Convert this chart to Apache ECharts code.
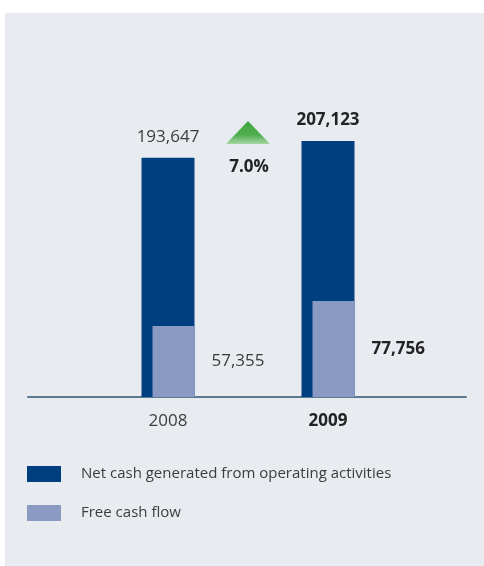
<!DOCTYPE html>
<html>
<head>
<meta charset="utf-8">
<script src="https://cdn.jsdelivr.net/npm/echarts@6/dist/echarts.min.js"></script>
<style>
  html, body { margin: 0; padding: 0; background: #ffffff; }
  #chart { width: 484px; height: 566px; }
</style>
</head>
<body>
<div id="chart"></div>
<script>
// Cash flow figures by year
const years = [2008, 2009];
const yearLabels = ['2008', '2009'];
const netCash = [193647, 207123];
const freeCash = [57355, 77756];
const seriesNames = ['Net cash generated from operating activities', 'Free cash flow'];

const FONT = '"Open Sans", "Liberation Sans", sans-serif';
const DARK = '#003f7f';
const LIGHT = '#8a9ac3';
const TEXT = '#3c3c3c';
const latest = years.length - 1;

const fmt = v => v.toLocaleString('en-US');
// the most recent year is emphasised in bold
const richText = {
  n: { fontFamily: FONT, fontSize: 17, color: TEXT, fontWeight: 'normal' },
  b: { fontFamily: FONT, fontSize: 17, color: '#222', fontWeight: 'bold' }
};
const tag = i => (i === latest ? 'b' : 'n');

const chart = echarts.init(document.getElementById('chart'), null, { renderer: 'canvas' });

const option = {
  backgroundColor: '#ffffff',
  animation: false,
  grid: { left: 28, right: 18, top: 88, bottom: 169 },
  xAxis: {
    type: 'value',
    min: 2007.125,
    max: 2009.8625,
    splitLine: { show: false },
    axisTick: { show: false },
    axisLine: { show: true, onZero: false, lineStyle: { color: '#5b7a8f', width: 2 } },
    axisLabel: {
      customValues: years,
      margin: 16,
      formatter: v => {
        const i = years.indexOf(v);
        return i < 0 ? '' : '{' + tag(i) + '|' + yearLabels[i] + '}';
      },
      rich: richText
    }
  },
  yAxis: {
    type: 'value',
    min: 0,
    max: 250000,
    show: false
  },
  legend: {
    orient: 'vertical',
    left: 27,
    top: 466,
    padding: 0,
    icon: 'rect',
    itemWidth: 34,
    itemHeight: 16,
    itemGap: 23,
    selectedMode: false,
    textStyle: { fontFamily: FONT, fontSize: 15, color: TEXT, padding: [0, 0, 0, 15], lineHeight: 16 },
    data: seriesNames
  },
  series: [
    {
      name: seriesNames[0],
      type: 'bar',
      barWidth: 53,
      barGap: '-79.25%',
      itemStyle: { color: DARK },
      data: years.map((y, i) => [y, netCash[i]]),
      label: {
        show: true,
        position: 'top',
        distance: 12,
        formatter: p => '{' + tag(p.dataIndex) + '|' + fmt(netCash[p.dataIndex]) + '}',
        rich: richText
      }
    },
    {
      name: seriesNames[1],
      type: 'bar',
      barWidth: 42,
      barGap: '-79.25%',
      itemStyle: { color: LIGHT },
      data: years.map((y, i) => [y, freeCash[i]]),
      label: {
        show: true,
        position: 'right',
        distance: 17,
        formatter: p => '{' + tag(p.dataIndex) + '|' + fmt(freeCash[p.dataIndex]) + '}',
        rich: richText
      }
    }
  ]
};

chart.setOption(option);

// Growth marker between the two years: green arrow with the percentage change
const growth = ((netCash[latest] / netCash[latest - 1] - 1) * 100).toFixed(1) + '%';
const anchor = chart.convertToPixel({ gridIndex: 0 }, [(years[0] + years[latest]) / 2, netCash[latest]]);
const cx = anchor[0];
const cy = anchor[1];

chart.setOption({
  graphic: [
    {
      type: 'rect',
      z: -10,
      silent: true,
      shape: { x: 5, y: 13, width: 479, height: 553 },
      style: { fill: '#e8ecf1' }
    },
    {
      type: 'polygon',
      silent: true,
      shape: { points: [[cx - 22, cy + 3], [cx, cy - 20], [cx + 22, cy + 3]] },
      style: {
        fill: new echarts.graphic.LinearGradient(0, 0, 0, 1, [
          { offset: 0, color: '#3ea43e' },
          { offset: 0.6, color: '#4fae4f' },
          { offset: 1, color: '#a6d6a6' }
        ])
      }
    },
    {
      type: 'text',
      silent: true,
      x: cx + 1,
      y: cy + 26,
      style: {
        text: growth,
        fontFamily: FONT,
        fontSize: 17,
        fontWeight: 'bold',
        fill: '#222',
        align: 'center',
        verticalAlign: 'middle'
      }
    }
  ]
});
</script>
</body>
</html>
